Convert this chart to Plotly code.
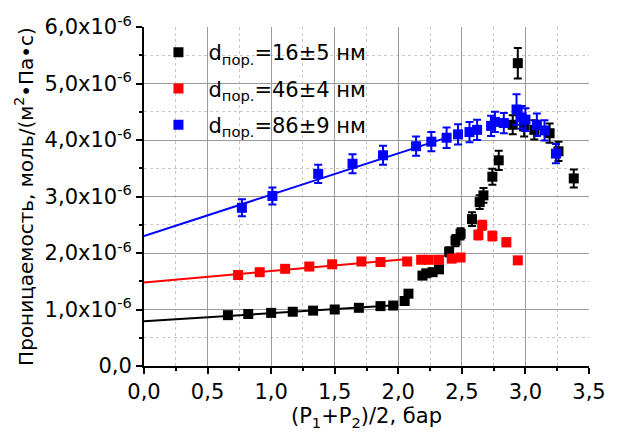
import plotly.graph_objects as go

# ---- data (values of permeability in units of 1e-6 mol/(m2*Pa*s)) ----
black_x = [0.66, 0.82, 1.00, 1.17, 1.33, 1.50, 1.69, 1.86, 1.96, 2.05, 2.08, 2.19, 2.22, 2.27, 2.32,
           2.40, 2.45, 2.49, 2.58, 2.64, 2.67, 2.74, 2.79, 2.90, 2.94, 2.99, 3.07, 3.19, 3.26, 3.38]
black_y = [0.90, 0.92, 0.94, 0.96, 0.98, 1.00, 1.03, 1.06, 1.07, 1.15, 1.28, 1.60, 1.64, 1.66, 1.71,
           2.02, 2.22, 2.34, 2.60, 2.90, 3.02, 3.35, 3.64, 4.27, 5.36, 4.24, 4.18, 4.12, 3.80, 3.32]
black_err = [0.03, 0.03, 0.03, 0.03, 0.03, 0.03, 0.03, 0.03, 0.03, 0.04, 0.05, 0.06, 0.06, 0.06, 0.06,
             0.08, 0.10, 0.10, 0.12, 0.12, 0.13, 0.14, 0.17, 0.17, 0.27, 0.18, 0.17, 0.17, 0.17, 0.16]

red_x = [0.74, 0.91, 1.11, 1.30, 1.48, 1.71, 1.86, 2.07, 2.18, 2.24, 2.32, 2.42, 2.49,
         2.63, 2.66, 2.74, 2.85, 2.94]
red_y = [1.61, 1.66, 1.72, 1.76, 1.80, 1.85, 1.84, 1.85, 1.88, 1.88, 1.88, 1.90, 1.92,
         2.32, 2.49, 2.30, 2.19, 1.87]
red_err = [0.04] * 13 + [0.08, 0.08, 0.08, 0.07, 0.06]

blue_x = [0.77, 1.01, 1.37, 1.64, 1.88, 2.14, 2.26, 2.38, 2.47, 2.56, 2.62, 2.73, 2.76, 2.83,
          2.93, 2.97, 3.00, 3.09, 3.15, 3.24]
blue_y = [2.80, 3.01, 3.40, 3.58, 3.73, 3.89, 3.97, 4.04, 4.10, 4.14, 4.18, 4.25, 4.32, 4.30,
          4.54, 4.40, 4.36, 4.27, 4.17, 3.76]
blue_err = [0.15, 0.15, 0.16, 0.17, 0.17, 0.17, 0.17, 0.18, 0.18, 0.18, 0.18, 0.18, 0.18, 0.18,
            0.27, 0.20, 0.20, 0.20, 0.18, 0.17]

# linear fits (end points)
black_fit_x = [0.0, 2.0]
black_fit_y = [0.79, 1.08]
red_fit_x = [0.0, 2.1]
red_fit_y = [1.48, 1.90]
blue_fit_x = [0.0, 2.35]
blue_fit_y = [2.30, 4.02]

series_names = ["d<sub>пор.</sub>=16±5 нм", "d<sub>пор.</sub>=46±4 нм", "d<sub>пор.</sub>=86±9 нм"]
series_colors = ["#000000", "#ff0000", "#0000ff"]

x_tickvals = [0, 0.5, 1.0, 1.5, 2.0, 2.5, 3.0, 3.5]
x_ticktext = ["0,0", "0,5", "1,0", "1,5", "2,0", "2,5", "3,0", "3,5"]
y_tickvals = [0, 1, 2, 3, 4, 5, 6]
y_ticktext = ["0,0", "1,0x10<sup>-6</sup>", "2,0x10<sup>-6</sup>", "3,0x10<sup>-6</sup>",
              "4,0x10<sup>-6</sup>", "5,0x10<sup>-6</sup>", "6,0x10<sup>-6</sup>"]

FONT = "DejaVu Sans"

fig = go.Figure()

fits = [(black_fit_x, black_fit_y), (red_fit_x, red_fit_y), (blue_fit_x, blue_fit_y)]
for (fx, fy), c in zip(fits, series_colors):
    fig.add_trace(go.Scatter(x=fx, y=fy, mode="lines", line=dict(color=c, width=2),
                             showlegend=False, hoverinfo="skip"))

data = [(black_x, black_y, black_err), (red_x, red_y, red_err), (blue_x, blue_y, blue_err)]
for i, ((xs, ys, es), name, c) in enumerate(zip(data, series_names, series_colors)):
    fig.add_trace(go.Scatter(
        x=xs, y=ys, mode="markers", name=name, legendgroup=f"g{i}",
        marker=dict(symbol="square", size=10, color=c, line=dict(width=0)),
        error_y=dict(type="data", array=es, color=c, thickness=2, width=4),
    ))

grid_major = "#9a9a9a"
grid_minor = "#c8c8c8"

fig.update_layout(
    width=618, height=434,
    margin=dict(l=144, r=19, t=25, b=68),
    paper_bgcolor="white", plot_bgcolor="white",
    font=dict(family=FONT, size=21, color="black"),
    showlegend=True,
    legend=dict(x=0.01, y=0.985, xanchor="left", yanchor="top",
                bgcolor="rgba(0,0,0,0)", font=dict(family=FONT, size=21), tracegroupgap=6,
                itemwidth=50),
    xaxis=dict(
        range=[0, 3.5], tickvals=x_tickvals, ticktext=x_ticktext,
        ticks="outside", ticklen=6, tickwidth=2, tickcolor="black",
        showline=True, linecolor="black", linewidth=2,
        showgrid=True, gridcolor=grid_major, gridwidth=1, zeroline=False,
        tickfont=dict(family=FONT, size=21),
        minor=dict(dtick=0.25, tick0=0, ticks="outside", ticklen=3, tickwidth=2, tickcolor="black",
                   showgrid=True, gridcolor=grid_minor, griddash="dot", gridwidth=1),
        title=dict(text="(P<sub>1</sub>+P<sub>2</sub>)/2, бар", font=dict(family=FONT, size=21), standoff=2),
    ),
    yaxis=dict(
        range=[0, 6], tickvals=y_tickvals, ticktext=y_ticktext,
        ticks="outside", ticklen=6, tickwidth=2, tickcolor="black",
        showline=True, linecolor="black", linewidth=2,
        showgrid=True, gridcolor=grid_major, gridwidth=1, zeroline=False,
        tickfont=dict(family=FONT, size=21),
        minor=dict(dtick=0.5, tick0=0, ticks="outside", ticklen=3, tickwidth=2, tickcolor="black",
                   showgrid=True, gridcolor=grid_minor, griddash="dot", gridwidth=1),
        title=dict(text="Проницаемость, моль/(м<sup>2</sup>•Па•с)", font=dict(family=FONT, size=20), standoff=6),
    ),
    xaxis2=dict(
        overlaying="x", side="top", anchor="y", range=[0, 3.5], tickvals=x_tickvals,
        showticklabels=False, ticks="inside", ticklen=6, tickwidth=2, tickcolor="black",
        showline=True, linecolor="black", linewidth=2, showgrid=False, zeroline=False,
        minor=dict(dtick=0.25, tick0=0, ticks="inside", ticklen=3, tickwidth=2, tickcolor="black"),
    ),
    yaxis2=dict(
        overlaying="y", side="right", anchor="x", range=[0, 6], tickvals=y_tickvals,
        showticklabels=False, ticks="inside", ticklen=6, tickwidth=2, tickcolor="black",
        showline=True, linecolor="black", linewidth=2, showgrid=False, zeroline=False,
        minor=dict(dtick=0.5, tick0=0, ticks="inside", ticklen=3, tickwidth=2, tickcolor="black"),
    ),
)

fig.write_html("out.html")
